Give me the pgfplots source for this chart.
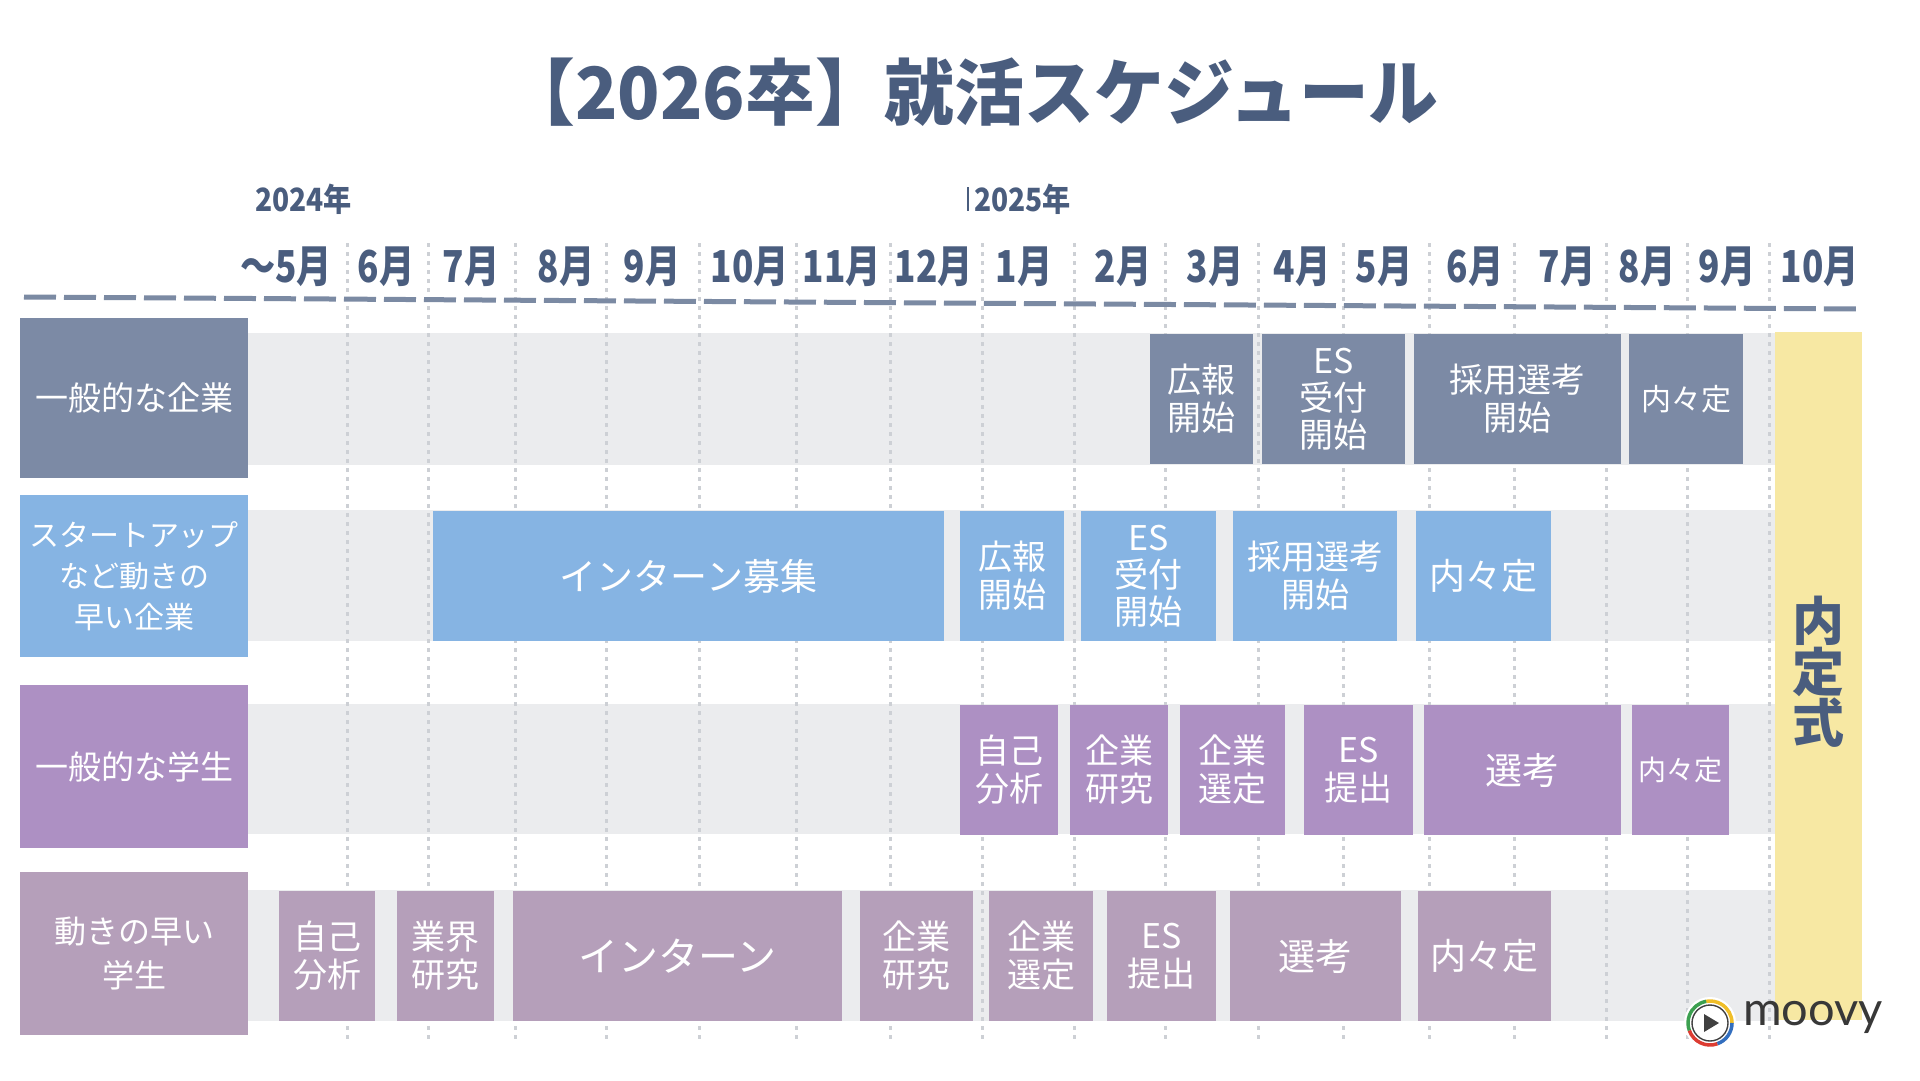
\documentclass[border=0pt]{standalone}
\usepackage{fontspec}
\usepackage{pgfplots}
\pgfplotsset{compat=1.18}
\setmainfont{Noto Sans CJK JP}
\newfontfamily\jpn[FakeStretch=0.8]{Noto Sans CJK JP}
\newfontfamily\jpy[FakeStretch=0.88]{Noto Sans CJK JP}
\newfontfamily\jpm{Noto Sans CJK JP}
\newfontfamily\jpt[FakeStretch=0.97]{Noto Sans CJK JP}
\newfontfamily\logofont{Lato}
\definecolor{titlec}{HTML}{4A5D7E}
\definecolor{cA}{HTML}{7C8AA5}
\definecolor{cB}{HTML}{86B4E3}
\definecolor{cC}{HTML}{AD90C3}
\definecolor{cD}{HTML}{B59FBA}
\definecolor{band}{HTML}{EBECEE}
\definecolor{ylw}{HTML}{F7E8A3}
\definecolor{vline}{HTML}{CDD0D5}
\definecolor{topline}{HTML}{7B8AA3}
% bar: x0 x1 y0 y1 colour fontsize baselineskip text
\newcommand{\gbar}[8]{%
  \addplot[draw=none, fill=#5] coordinates {(#1,#3) (#2,#3) (#2,#4) (#1,#4)} -- cycle;
  \node[text=white, align=center, inner sep=0pt, font=\jpm\fontsize{#6}{#7}\selectfont]
    at (axis cs:{(#1+#2)/2},{(#3+#4)/2}) {#8};
}
\newcommand{\vgrid}[1]{%
  \addplot[vline, line width=3pt, dash pattern=on 4pt off 5pt] coordinates {(#1,243) (#1,1043)};
}
\newcommand{\mlabel}[2]{%
  \node[text=titlec, font=\jpn\bfseries\fontsize{44}{48}\selectfont, inner sep=0pt] at (axis cs:#1,267) {#2};
}
\begin{document}
\begin{tikzpicture}
\begin{axis}[
  width=1920pt, height=1080pt, scale only axis,
  xmin=0, xmax=1920, ymin=0, ymax=1080, y dir=reverse,
  hide axis, clip=false]
\addplot[draw=none, fill=white] coordinates {(0,0) (1920,0) (1920,1080) (0,1080)} -- cycle;
% title
\node[text=titlec, font=\jpt\bfseries\fontsize{72}{80}\selectfont, inner sep=0pt] at (axis cs:972,92) {【2026卒】就活スケジュール};
% year labels
\node[text=titlec, font=\jpy\bfseries\fontsize{32}{36}\selectfont, inner sep=0pt, anchor=west] at (axis cs:255,199) {2024年};
\addplot[titlec, line width=2pt] coordinates {(968,187) (968,211)};
\node[text=titlec, font=\jpy\bfseries\fontsize{32}{36}\selectfont, inner sep=0pt, anchor=west] at (axis cs:974,199) {2025年};
% month labels
\mlabel{286}{〜5月}
\mlabel{386}{6月}
\mlabel{471}{7月}
\mlabel{566}{8月}
\mlabel{652}{9月}
\mlabel{750}{10月}
\mlabel{842}{11月}
\mlabel{934}{12月}
\mlabel{1024}{1月}
\mlabel{1123}{2月}
\mlabel{1215}{3月}
\mlabel{1302}{4月}
\mlabel{1384}{5月}
\mlabel{1475}{6月}
\mlabel{1567}{7月}
\mlabel{1647}{8月}
\mlabel{1727}{9月}
\mlabel{1820}{10月}
% bands
\addplot[draw=none, fill=band] coordinates {(248,333) (1776,333) (1776,465) (248,465)} -- cycle;
\addplot[draw=none, fill=band] coordinates {(248,510) (1776,510) (1776,641) (248,641)} -- cycle;
\addplot[draw=none, fill=band] coordinates {(248,704) (1776,704) (1776,834) (248,834)} -- cycle;
\addplot[draw=none, fill=band] coordinates {(248,890) (1776,890) (1776,1021) (248,1021)} -- cycle;
% vertical grid
\vgrid{347}\vgrid{428}\vgrid{515}\vgrid{606}\vgrid{699}\vgrid{796}\vgrid{890}\vgrid{982}\vgrid{1074}
\vgrid{1165}\vgrid{1258}\vgrid{1343}\vgrid{1429}\vgrid{1514}\vgrid{1606}\vgrid{1687}\vgrid{1769}
% top dashed line
\addplot[topline, line width=5pt, dash pattern=on 32pt off 8pt] coordinates {(24,297) (1862,309)};
% yellow column
\addplot[draw=none, fill=ylw] coordinates {(1775,332) (1862,332) (1862,1020) (1775,1020)} -- cycle;
\node[text=titlec, align=center, inner sep=0pt, font=\bfseries\fontsize{52}{51}\selectfont] at (axis cs:1818,672) {内\\定\\式};
% row labels
\gbar{20}{248}{318}{478}{cA}{33}{40}{一般的な企業}
\gbar{20}{248}{495}{657}{cB}{30}{41}{スタートアップ\\など動きの\\早い企業}
\gbar{20}{248}{685}{848}{cC}{33}{40}{一般的な学生}
\gbar{20}{248}{872}{1035}{cD}{32}{44}{動きの早い\\学生}
% row 1
\gbar{1150}{1253}{334}{464}{cA}{34}{38}{広報\\開始}
\gbar{1262}{1405}{334}{464}{cA}{34}{37}{ES\\受付\\開始}
\gbar{1414}{1621}{334}{464}{cA}{34}{38}{採用選考\\開始}
\gbar{1629}{1743}{334}{464}{cA}{30}{36}{内々定}
% row 2
\gbar{433}{944}{511}{641}{cB}{37}{40}{インターン募集}
\gbar{960}{1064}{511}{641}{cB}{34}{38}{広報\\開始}
\gbar{1081}{1216}{511}{641}{cB}{34}{37}{ES\\受付\\開始}
\gbar{1233}{1397}{511}{641}{cB}{34}{38}{採用選考\\開始}
\gbar{1416}{1551}{511}{641}{cB}{36}{40}{内々定}
% row 3
\gbar{960}{1058}{705}{835}{cC}{34}{38}{自己\\分析}
\gbar{1070}{1168}{705}{835}{cC}{34}{38}{企業\\研究}
\gbar{1180}{1285}{705}{835}{cC}{34}{38}{企業\\選定}
\gbar{1304}{1413}{705}{835}{cC}{34}{38}{ES\\提出}
\gbar{1424}{1621}{705}{835}{cC}{37}{40}{選考}
\gbar{1632}{1729}{705}{835}{cC}{28}{34}{内々定}
% row 4
\gbar{279}{375}{891}{1021}{cD}{34}{38}{自己\\分析}
\gbar{397}{494}{891}{1021}{cD}{34}{38}{業界\\研究}
\gbar{513}{842}{891}{1021}{cD}{40}{44}{インターン}
\gbar{860}{973}{891}{1021}{cD}{34}{38}{企業\\研究}
\gbar{989}{1093}{891}{1021}{cD}{34}{38}{企業\\選定}
\gbar{1107}{1216}{891}{1021}{cD}{34}{38}{ES\\提出}
\gbar{1230}{1401}{891}{1021}{cD}{37}{40}{選考}
\gbar{1418}{1551}{891}{1021}{cD}{36}{40}{内々定}
% logo
\fill[white] (axis cs:1710,1023) circle[radius=26pt];
\draw[line width=3.5pt, color={rgb,255:red,240;green,190;blue,40}] ([shift={(0:22pt)}]axis cs:1710,1023) arc[start angle=0, end angle=100, radius=22pt];
\draw[line width=3.5pt, color={rgb,255:red,60;green,160;blue,80}] ([shift={(100:22pt)}]axis cs:1710,1023) arc[start angle=100, end angle=200, radius=22pt];
\draw[line width=3.5pt, color={rgb,255:red,220;green,60;blue,50}] ([shift={(200:22pt)}]axis cs:1710,1023) arc[start angle=200, end angle=290, radius=22pt];
\draw[line width=3.5pt, color={rgb,255:red,50;green,110;blue,190}] ([shift={(290:22pt)}]axis cs:1710,1023) arc[start angle=290, end angle=360, radius=22pt];
\draw[line width=1.4pt, color=black!75] (axis cs:1710,1023) circle[radius=18pt];
\fill[black!75] (axis cs:1704,1014) -- (axis cs:1704,1032) -- (axis cs:1719,1023) -- cycle;
\node[text=black!78, font=\logofont\fontsize{47}{50}\selectfont, anchor=west, inner sep=0pt] at (axis cs:1743,1017) {moovy};
\end{axis}
\end{tikzpicture}
\end{document}
